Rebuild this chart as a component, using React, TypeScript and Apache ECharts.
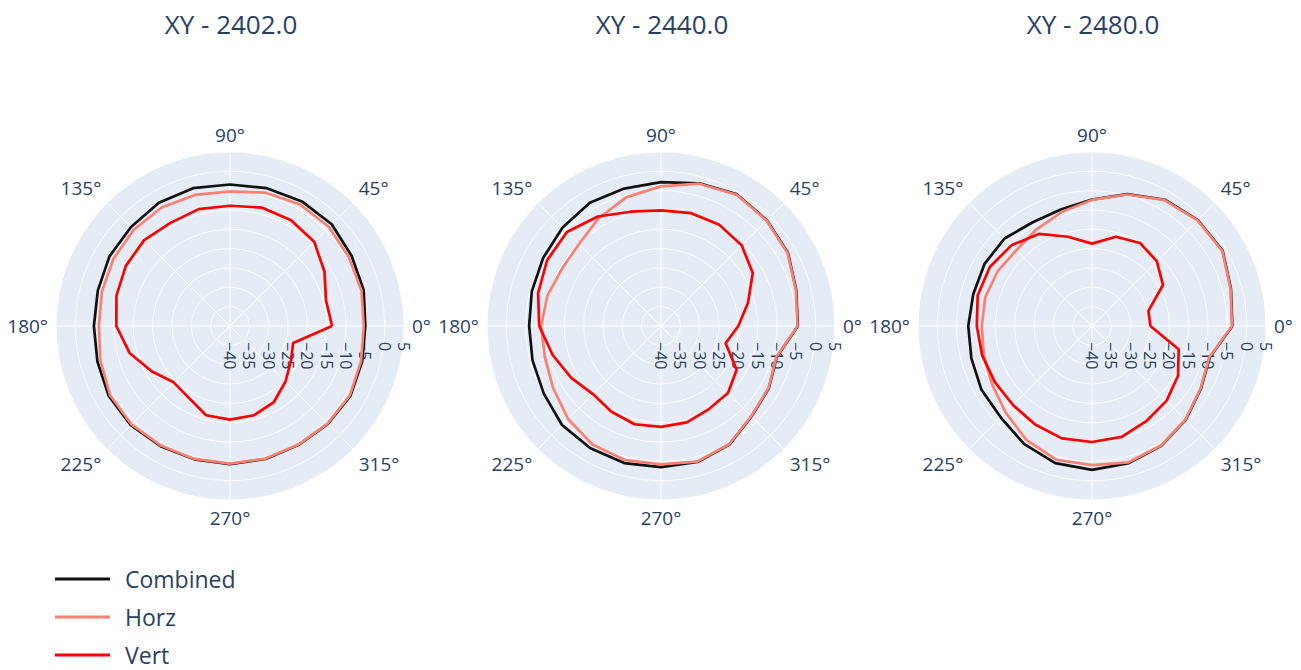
import React, { useEffect, useRef } from "react";
import * as echarts from "echarts";

const titles = ["XY - 2402.0", "XY - 2440.0", "XY - 2480.0"];
const seriesNames = ["Combined", "Horz", "Vert"];
const seriesColors = ["#111111", "#FA8072", "#FF0000"];

const thetas = [0, 15, 30, 45, 60, 75, 90, 105, 120, 135, 150, 165, 180, 195, 210, 225, 240, 255, 270, 285, 300, 315, 330, 345];

const combined2402 = [-5.0, -4.2, -3.7, -2.8, -2.8, -3.1, -3.4, -3.1, -3.2, -3.8, -4.0, -4.6, -4.8, -4.5, -3.8, -3.7, -4.1, -4.3, -4.3, -4.4, -4.5, -4.2, -4.0, -4.6];
const horz2402 = [-5.4, -4.8, -4.5, -3.8, -3.7, -4.3, -5.2, -4.9, -4.6, -4.8, -5.2, -5.7, -6.1, -5.3, -4.2, -4.0, -4.3, -4.4, -4.4, -4.5, -4.6, -4.3, -4.2, -4.9];
const vert2402 = [-13.6, -14.3, -11.8, -9.2, -8.4, -8.3, -8.9, -8.7, -9.2, -8.6, -8.9, -9.6, -10.6, -13.1, -16.6, -19.4, -18.6, -16.1, -15.8, -16.1, -17.3, -19.7, -21.8, -23.1];

const combined2440 = [-4.6, -3.8, -2.1, -1.3, -0.7, -1.8, -2.8, -3.2, -3.2, -4.0, -4.8, -5.4, -5.9, -5.6, -5.0, -3.8, -3.5, -3.3, -3.5, -3.6, -4.6, -6.9, -7.8, -9.0];
const horz2440 = [-4.7, -3.9, -2.2, -1.4, -0.8, -1.9, -3.9, -5.5, -7.8, -10.0, -10.4, -9.6, -9.0, -8.9, -7.8, -6.0, -4.6, -4.1, -4.2, -3.7, -4.7, -7.0, -7.9, -9.1];
const vert2440 = [-20.0, -16.7, -12.6, -10.5, -9.8, -9.8, -10.1, -9.4, -7.3, -5.6, -6.0, -7.1, -8.5, -11.0, -13.2, -15.1, -14.4, -13.7, -13.9, -14.2, -15.2, -15.5, -17.4, -22.7];

const combined2480 = [-3.7, -2.8, -1.0, -1.3, -2.3, -4.7, -7.3, -8.8, -9.1, -8.0, -7.9, -8.2, -8.0, -7.7, -7.0, -6.6, -4.8, -3.3, -2.8, -3.3, -4.2, -5.7, -7.5, -8.5];
const horz2480 = [-3.8, -2.9, -1.1, -1.4, -2.4, -4.8, -7.4, -9.5, -11.2, -12.3, -11.8, -11.4, -11.5, -11.0, -10.1, -8.4, -6.0, -4.2, -4.0, -3.5, -4.3, -5.8, -7.6, -8.6];
const vert2480 = [-24.9, -24.9, -18.8, -16.3, -15.2, -16.1, -18.7, -16.1, -12.5, -10.5, -9.5, -9.4, -10.2, -10.6, -11.0, -11.1, -10.6, -9.9, -10.0, -10.3, -11.7, -12.7, -14.3, -16.8];

const plots = [
  [combined2402, horz2402, vert2402],
  [combined2440, horz2440, vert2440],
  [combined2480, horz2480, vert2480],
];

const radiusMin = -40;
const radiusMax = 5;
const radiusStep = 5;
const angleStep = 45;

const TEXT = "#2a3f5f";
const FONT = "Open Sans";

export default function App() {
  const ref = useRef<HTMLDivElement>(null);

  useEffect(() => {
    if (!ref.current) return;
    const chart = echarts.init(ref.current, undefined, { renderer: "svg" });
    const centersX = [230, 661, 1092];
    const cy = 326;
    const R = 174;

    const polar = centersX.map((cx) => ({ center: [cx, cy], radius: R }));
    const angleAxis = centersX.map((_, i) => ({
      polarIndex: i,
      type: "value",
      min: 0,
      max: 360,
      interval: angleStep,
      startAngle: 0,
      clockwise: false,
      z: 1,
      axisLine: { show: false },
      axisTick: { show: false },
      axisLabel: {
        color: TEXT,
        fontFamily: FONT,
        fontSize: 19,
        margin: 8,
        formatter: (v: number) => (v >= 360 ? "" : v + "°"),
      },
      splitLine: { show: true, lineStyle: { color: "#ffffff", width: 1 } },
    }));
    const radiusAxis = centersX.map((_, i) => ({
      polarIndex: i,
      type: "value",
      min: radiusMin,
      max: radiusMax,
      interval: radiusStep,
      z: 1,
      axisLine: { show: false },
      axisTick: { show: false },
      axisLabel: {
        color: TEXT,
        fontFamily: FONT,
        fontSize: 16,
        rotate: -90,
        align: "left",
        verticalAlign: "middle",
        margin: -16,
        formatter: (v: number) => String(v).replace("-", "\u2212"),
      },
      splitLine: { show: true, lineStyle: { color: "#ffffff", width: 1 } },
    }));

    const series: any[] = [];
    plots.forEach((group, pi) => {
      group.forEach((vals, si) => {
        const data = thetas.map((t, k) => [vals[k], t]);
        data.push([vals[0], 360]);
        series.push({
          type: "line",
          name: seriesNames[si],
          coordinateSystem: "polar",
          polarIndex: pi,
          data,
          symbol: "none",
          lineStyle: { color: seriesColors[si], width: 2.7 },
          itemStyle: { color: seriesColors[si] },
          z: 3 + si,
        });
      });
    });

    chart.setOption({
      animation: false,
      backgroundColor: "#ffffff",
      graphic: centersX.map((cx) => ({
        type: "circle",
        z: -10,
        silent: true,
        shape: { cx, cy, r: R },
        style: { fill: "#E5ECF6" },
      })),
      title: titles.map((t, i) => ({
        text: t,
        left: centersX[i] - 4,
        top: 6,
        textAlign: "center",
        textStyle: { color: TEXT, fontFamily: FONT, fontSize: 26, fontWeight: "normal" },
      })),
      legend: {
        orient: "vertical",
        left: 55,
        top: 567,
        height: 100,
        padding: 0,
        icon: "rect",
        itemWidth: 55,
        itemHeight: 3,
        itemGap: 14,
        data: seriesNames,
        textStyle: { color: TEXT, fontFamily: FONT, fontSize: 23, lineHeight: 24, padding: [0, 0, 0, 10] },
      },
      polar,
      angleAxis,
      radiusAxis,
      series,
    });

    return () => chart.dispose();
  }, []);

  return (
    <div
      ref={ref}
      style={{ position: "fixed", left: 0, top: 0, width: 1301, height: 670 }}
    />
  );
}
